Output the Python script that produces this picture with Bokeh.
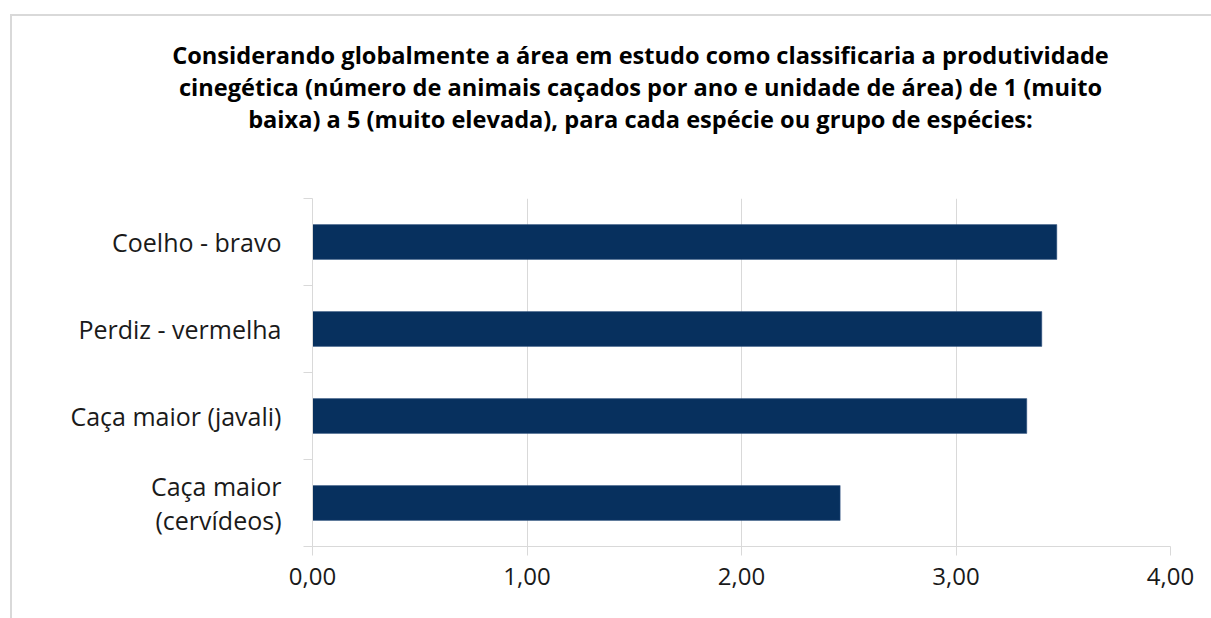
from bokeh.plotting import figure
from bokeh.models import FixedTicker, LinearAxis, Range1d, ColumnDataSource
from bokeh.layouts import column
from bokeh.core.properties import value
from bokeh.embed import file_html
from bokeh.resources import INLINE

categories = ["Coelho - bravo", "Perdiz - vermelha", "Caça maior (javali)", "Caça maior\n(cervídeos)"]
values = [3.47, 3.40, 3.33, 2.46]
x_ticks = [0, 1, 2, 3, 4]
x_tick_labels = ["0,00", "1,00", "2,00", "3,00", "4,00"]
title_lines = [
    "Considerando globalmente a área em estudo como classificaria a produtividade",
    "cinegética (número de animais caçados por ano e unidade de área) de 1 (muito",
    "baixa) a 5 (muito elevada), para cada espécie ou grupo de espécies:",
]

FONT = "Open Sans"
W = 1199
TH = 182
n = len(categories)
ypos = [n - i - 0.5 for i in range(n)]

# ---- title figure ----
t = figure(width=W, height=TH, output_backend="svg", toolbar_location=None,
           x_range=Range1d(0, W), y_range=Range1d(0, TH),
           x_axis_location=None, y_axis_location=None,
           min_border=0)
t.frame_align = False
t.outline_line_color = None
t.grid.visible = False
tsrc = ColumnDataSource(dict(x=[628] * len(title_lines), y=[TH - 38 - 32 * i for i in range(len(title_lines))],
                             text=title_lines))
t.text(x="x", y="y", text="text", source=tsrc, text_align="center", text_baseline="middle",
       text_font=value(FONT), text_font_style="bold", text_font_size="23.6px", text_color="#000000")

# ---- main figure ----
src = ColumnDataSource(dict(y=ypos, v=values))
H = 618 - 16 - TH
p = figure(width=W, height=H, output_backend="svg", toolbar_location=None,
           x_range=Range1d(0, 4), y_range=Range1d(0, n),
           x_axis_location=None, y_axis_location=None,
           min_border_left=300, min_border_right=41, min_border_top=0, min_border_bottom=72)
p.frame_align = False
p.outline_line_color = None

p.hbar(y="y", right="v", left=0, height=0.4, source=src, fill_color="#07305E",
       line_color="#3a5a86", line_width=0.5)

xa = LinearAxis(ticker=FixedTicker(ticks=x_ticks))
xa.major_label_overrides = {tk: lb for tk, lb in zip(x_ticks, x_tick_labels)}
xa.axis_line_color = "#d9d9d9"
xa.major_tick_line_color = "#d9d9d9"
xa.major_tick_out = 9
xa.major_tick_in = 0
xa.minor_tick_line_color = None
xa.major_label_text_font = FONT
xa.major_label_text_font_size = "24px"
xa.major_label_text_color = "#1a1a1a"
xa.major_label_standoff = 12
p.add_layout(xa, "below")

ya = LinearAxis(ticker=FixedTicker(ticks=list(range(n + 1))))
ya.major_label_text_font_size = "0px"
ya.major_label_text_color = None
ya.axis_line_color = "#d9d9d9"
ya.major_tick_line_color = "#d9d9d9"
ya.major_tick_out = 9
ya.major_tick_in = 0
ya.minor_tick_line_color = None
ya.major_label_standoff = 0
p.add_layout(ya, "left")

yl = LinearAxis(ticker=FixedTicker(ticks=ypos))
yl.major_label_overrides = {y: c for y, c in zip(ypos, categories)}
yl.axis_line_color = None
yl.major_tick_line_color = None
yl.minor_tick_line_color = None
yl.major_label_text_font = FONT
yl.major_label_text_font_size = "25px"
yl.major_label_text_color = "#1a1a1a"
yl.major_label_text_line_height = 1.0
yl.major_label_standoff = 16
p.add_layout(yl, "left")

p.xgrid.ticker = FixedTicker(ticks=x_ticks[1:])
p.xgrid.grid_line_color = "#d9d9d9"
p.ygrid.grid_line_color = None

layout = column(t, p, spacing=0)
layout.margin = (14, 0, 0, 10)
layout.styles = {"border-left": "2px solid #d9d9d9", "border-top": "2px solid #d9d9d9"}

open("out.html", "w").write(file_html(layout, INLINE))
